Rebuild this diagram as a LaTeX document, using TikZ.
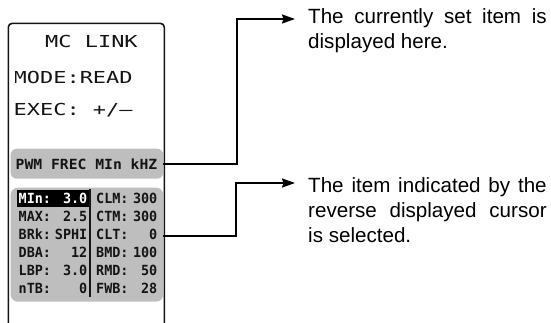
\documentclass[tikz,border=0pt]{standalone}
\usepackage{fontspec}
\setmainfont{Liberation Sans}
\newfontfamily\lcdthinfont{DejaVu Sans Mono}[FakeStretch=1.33]
\newfontfamily\lcdwidefont{DejaVu Sans Mono}[FakeStretch=1.05]
\newfontfamily\lcdcellfont{DejaVu Sans Mono}[FakeStretch=0.96]
\usetikzlibrary{arrows.meta}
\definecolor{lcdgray}{RGB}{190,190,190}
\definecolor{ink}{RGB}{20,20,20}
\tikzset{
  frame/.style={draw=ink, line width=1.6pt, rounded corners=4pt},
  panel/.style={fill=lcdgray, rounded corners=6pt, inner sep=0pt, anchor=north west},
  bigtxt/.style={font=\lcdthinfont\fontsize{16.5}{18}\selectfont, inner sep=0pt, text=ink, anchor=base west},
  widetxt/.style={font=\lcdwidefont\bfseries\fontsize{14}{16}\selectfont, inner sep=0pt, text=ink, anchor=base west},
  celllbl/.style={font=\lcdcellfont\bfseries\fontsize{14}{16}\selectfont, inner sep=0pt, text=ink, anchor=base west},
  cellval/.style={font=\lcdcellfont\bfseries\fontsize{14}{16}\selectfont, inner sep=0pt, text=ink, anchor=base east},
  conn/.style={draw=black, line width=1.8pt, -{Stealth[length=13pt,width=9pt,inset=1.5pt]}},
  note/.style={font=\fontsize{20.6}{25}\selectfont, text width=238.5pt, align=justify, inner sep=0pt, anchor=north west}
}
\begin{document}
\begin{tikzpicture}[x=1pt,y=-1pt]
\useasboundingbox (0,0) rectangle (551,322);
% display frame
\draw[frame] (8.3,335) -- (8.3,23.3) -- (164.3,23.3) -- (164.3,335);
% header texts
\begin{scope}
  \clip (15.5,0) rectangle (164,140);
  \node[bigtxt] (title) at (45,47.3) {MC LINK};
  \node[bigtxt] (mode) at (13.5,83) {MODE:READ};
  \node[bigtxt] (exec) at (13.5,115) {EXEC: +/–};
\end{scope}
% panels
\node[panel, minimum width=152.5pt, minimum height=30pt] (pwmbox) at (10.5,148.5) {};
\node[panel, rounded corners=7pt, minimum width=152.5pt, minimum height=114pt] (gridbox) at (10.5,187.5) {};
\node[widetxt] (pwm) at (15.5,169.5) {PWM FREC MIn kHZ};
% cursor
\node[fill=black, inner sep=0pt, anchor=north west, minimum width=71.6pt, minimum height=17pt] (cursor) at (16.7,190) {};
% divider
\draw[ink, line width=2pt] (90,189) -- (90,297);
% left column
\node[celllbl, text=white] (l1) at (18.5,203.5) {MIn:};
\node[cellval, text=white] (v1) at (87.5,203.5) {3.0};
\node[celllbl] (l2) at (18.5,221.5) {MAX:};
\node[cellval] (v2) at (87.5,221.5) {2.5};
\node[celllbl] (l3) at (18.5,239.5) {BRk:};
\node[cellval] (v3) at (87.5,239.5) {SPHI};
\node[celllbl] (l4) at (18.5,257.5) {DBA:};
\node[cellval] (v4) at (87.5,257.5) {12};
\node[celllbl] (l5) at (18.5,275.5) {LBP:};
\node[cellval] (v5) at (87.5,275.5) {3.0};
\node[celllbl] (l6) at (18.5,293.5) {nTB:};
\node[cellval] (v6) at (87.5,293.5) {0};
% right column
\node[celllbl] (r1) at (96,203.5) {CLM:};
\node[cellval] (w1) at (157.5,203.5) {300};
\node[celllbl] (r2) at (96,221.5) {CTM:};
\node[cellval] (w2) at (157.5,221.5) {300};
\node[celllbl] (r3) at (96,239.5) {CLT:};
\node[cellval] (w3) at (157.5,239.5) {0};
\node[celllbl] (r4) at (96,257.5) {BMD:};
\node[cellval] (w4) at (157.5,257.5) {100};
\node[celllbl] (r5) at (96,275.5) {RMD:};
\node[cellval] (w5) at (157.5,275.5) {50};
\node[celllbl] (r6) at (96,293.5) {FWB:};
\node[cellval] (w6) at (157.5,293.5) {28};
% callout texts
\node[note] (t1) at (308,8.3) {\tolerance=10000\relax The currently set item is\linebreak displayed here.};
\node[note] (t2) at (308,177) {\tolerance=10000\relax The item indicated by the\linebreak reverse displayed cursor\linebreak is selected.};
\coordinate (tip1) at (295,19);
\coordinate (tip2) at (295,183);
% connectors
\draw[conn] (pwmbox.east) -| (237,19) -- (tip1);
\draw[conn] (gridbox.east |- 0,236) -| (236,183) -- (tip2);
\end{tikzpicture}
\end{document}
